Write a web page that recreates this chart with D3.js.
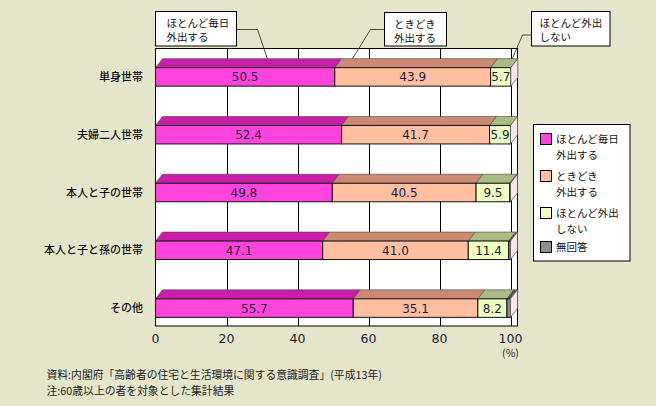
<!DOCTYPE html>
<html>
<head>
<meta charset="utf-8">
<script src="https://cdn.jsdelivr.net/npm/d3@7/dist/d3.min.js"></script>
<style>
  html, body { margin: 0; padding: 0; background: #E5E5CB; }
  svg { display: block; }
</style>
</head>
<body>
<svg id="chart" width="656" height="406"></svg>
<script>
// ---- data ----
const categories = ["単身世帯", "夫婦二人世帯", "本人と子の世帯", "本人と子と孫の世帯", "その他"];
const seriesKeys = ["daily", "sometimes", "rarely", "noAnswer"];
const seriesLabels = [["ほとんど毎日", "外出する"], ["ときどき", "外出する"], ["ほとんど外出", "しない"], ["無回答"]];
const daily = [50.5, 52.4, 49.8, 47.1, 55.7];
const sometimes = [43.9, 41.7, 40.5, 41.0, 35.1];
const rarely = [5.7, 5.9, 9.5, 11.4, 8.2];
const noAnswer = [0, 0, 0.2, 0.5, 1.0];
const xTicks = [0, 20, 40, 60, 80, 100];
const sourceLines = ["資料:内閣府「高齢者の住宅と生活環境に関する意識調査」(平成13年)", "注:60歳以上の者を対象とした集計結果"];

// ---- styles ----
const frontColors = ["#FF44DD", "#FFBFA0", "#EEFFC2", "#8E8E8E"];
const topColors = ["#CC1CAA", "#CC8A72", "#AABB86", "#555555"];
const sideColor = "#FFE4E8";
const jp = "'Noto Sans CJK JP', 'Noto Sans', sans-serif";
const num = "'DejaVu Sans', sans-serif";

const svg = d3.select("#chart");
const W = 656, H = 406;
svg.append("rect").attr("width", W).attr("height", H).attr("fill", "#E5E5CB");

const plot = { left: 155.5, right: 517.5, top: 48.5, bottom: 326 };
const dx = 7, dy = 9;

const x = d3.scaleLinear().domain([0, 100]).range([155.5, 510.5]);
const y = d3.scaleBand().domain(categories).range([48, 337]).paddingInner(0.68).paddingOuter(0.34);

const rows = categories.map((c, i) => ({ cat: c, daily: daily[i], sometimes: sometimes[i], rarely: rarely[i], noAnswer: noAnswer[i] }));
const stacked = d3.stack().keys(seriesKeys)(rows);

// plot area
svg.append("rect")
  .attr("x", plot.left).attr("y", plot.top)
  .attr("width", plot.right - plot.left).attr("height", plot.bottom - plot.top)
  .attr("fill", "#fff").attr("stroke", "#000").attr("stroke-width", 1);

// gridlines
svg.append("g").selectAll("line").data(xTicks.slice(1)).join("line")
  .attr("x1", d => Math.round(x(d)) + 0.5).attr("x2", d => Math.round(x(d)) + 0.5)
  .attr("y1", plot.top).attr("y2", plot.bottom)
  .attr("stroke", "#000").attr("stroke-width", 1);

// bars
const gBars = svg.append("g");
stacked.forEach((layer, si) => {
  const g = gBars.append("g");
  layer.forEach((d, i) => {
    const x0 = x(d[0]), x1 = x(d[1]);
    if (x1 - x0 <= 0.01) return;
    const top = y(categories[i]), bh = y.bandwidth();
    g.append("polygon")
      .attr("points", [[x0, top], [x0 + dx, top - dy], [x1 + dx, top - dy], [x1, top]].map(p => p.join(",")).join(" "))
      .attr("fill", topColors[si]).attr("stroke", "#444").attr("stroke-width", 0.6);
    g.append("rect")
      .attr("x", x0).attr("y", top).attr("width", x1 - x0).attr("height", bh)
      .attr("fill", frontColors[si]).attr("stroke", "#111").attr("stroke-width", 1);
  });
});
// side faces at bar ends
const last = stacked[stacked.length - 1];
gBars.append("g").selectAll("polygon").data(last).join("polygon")
  .attr("points", (d, i) => {
    const xe = x(d[1]), top = y(categories[i]), bot = top + y.bandwidth();
    return [[xe, top], [xe + dx, top - dy], [xe + dx, bot - dy], [xe, bot]].map(p => p.join(",")).join(" ");
  })
  .attr("fill", sideColor).attr("stroke", "#555").attr("stroke-width", 0.7);

// value labels
stacked.slice(0, 3).forEach((layer) => {
  svg.append("g").selectAll("text").data(layer).join("text")
    .attr("x", d => x((d[0] + d[1]) / 2))
    .attr("y", (d, i) => y(categories[i]) + y.bandwidth() / 2 + 4.5)
    .attr("text-anchor", "middle")
    .attr("font-family", num).attr("font-size", 12).attr("fill", "#1c1c3a")
    .text(d => (d[1] - d[0]).toFixed(1));
});

// category labels
svg.append("g").selectAll("text").data(categories).join("text")
  .attr("x", 143).attr("y", d => y(d) + y.bandwidth() / 2 + 4)
  .attr("text-anchor", "end")
  .attr("font-family", jp).attr("font-size", 11).attr("font-weight", 500).attr("fill", "#111")
  .text(d => d);

// x tick labels
svg.append("g").selectAll("text").data(xTicks).join("text")
  .attr("x", d => x(d)).attr("y", 343)
  .attr("text-anchor", "middle")
  .attr("font-family", num).attr("font-size", 12.5).attr("fill", "#1c1c3a")
  .text(d => d);
svg.append("text").attr("x", x(100)).attr("y", 357)
  .attr("text-anchor", "middle").attr("font-family", jp).attr("font-size", 10.5).attr("fill", "#1c1c3a")
  .text("(%)");

// callouts
const callouts = [
  { lines: seriesLabels[0], box: [155.5, 11.5, 81, 34.5], tx: 166.5, from: [236.5, 29.5], elbow: 257.5, anchor: 31.5 },
  { lines: seriesLabels[1], box: [384.5, 12.5, 62, 33.5], tx: 394, from: [384.5, 29.5], elbow: 370.5, anchor: 55.5 },
  { lines: seriesLabels[2], box: [531.5, 11.5, 78.5, 34.5], tx: 539.5, from: [531.5, 35], elbow: 522.5, anchor: 100.5 }
];
const cy = y(categories[0]) - dy;
callouts.forEach(c => {
  svg.append("path")
    .attr("d", `M${c.from[0]},${c.from[1]}H${c.elbow}L${x(c.anchor)},${cy}`)
    .attr("fill", "none").attr("stroke", "#222").attr("stroke-width", 0.8);
  svg.append("rect").attr("x", c.box[0]).attr("y", c.box[1]).attr("width", c.box[2]).attr("height", c.box[3])
    .attr("fill", "#fff").attr("stroke", "#000").attr("stroke-width", 1);
  c.lines.forEach((t, k) => {
    svg.append("text").attr("x", c.tx).attr("y", c.box[1] + 15 + k * 14)
      .attr("font-family", jp).attr("font-size", 10.5).attr("fill", "#111").text(t);
  });
});

// legend
const lg = svg.append("g");
lg.append("rect").attr("x", 533.5).attr("y", 124.5).attr("width", 96.5).attr("height", 136.5)
  .attr("fill", "#fff").attr("stroke", "#000").attr("stroke-width", 1);
const legendTops = [133.5, 170.5, 207.5, 241.5];
seriesLabels.forEach((lines, i) => {
  lg.append("rect").attr("x", 540.5).attr("y", legendTops[i]).attr("width", 11).attr("height", 11)
    .attr("fill", frontColors[i]).attr("stroke", "#000").attr("stroke-width", 1);
  lines.forEach((t, k) => {
    lg.append("text").attr("x", 556).attr("y", legendTops[i] + 9.5 + k * 15.5)
      .attr("font-family", jp).attr("font-size", 10.5).attr("fill", "#111").text(t);
  });
});

// source
sourceLines.forEach((t, k) => {
  svg.append("text").attr("x", 46.5).attr("y", 379 + k * 16)
    .attr("font-family", jp).attr("font-size", 10.8).attr("fill", "#222").text(t);
});
</script>
</body>
</html>
